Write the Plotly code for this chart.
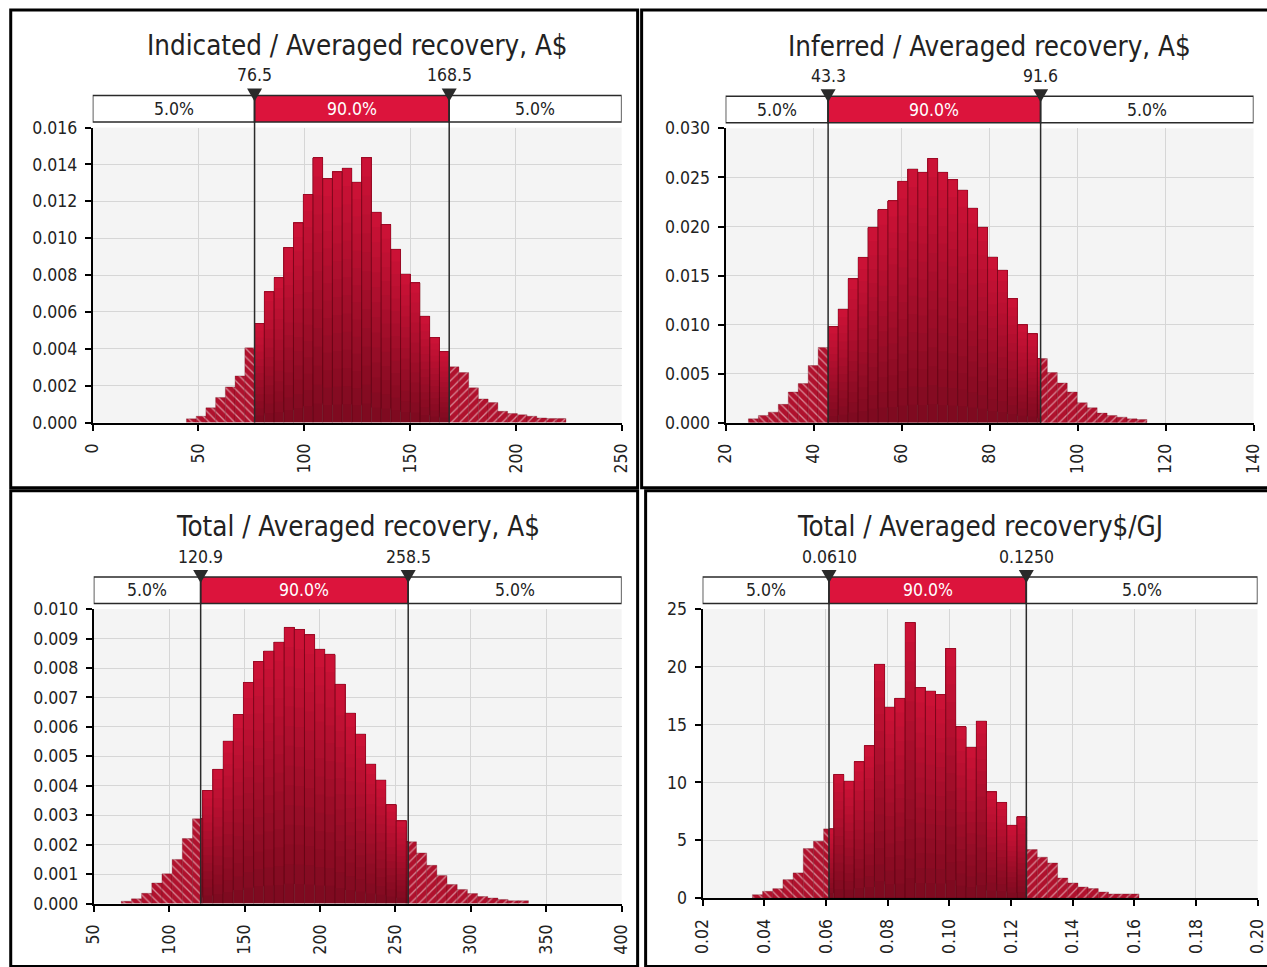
import plotly.graph_objects as go

# ---------------- DATA ----------------
TITLES = [
    "Indicated / Averaged recovery, A$",
    "Inferred / Averaged recovery, A$",
    "Total / Averaged recovery, A$",
    "Total / Averaged recovery$/GJ",
]
REGION_LABELS = ["5.0%", "90.0%", "5.0%"]

# Indicated / Averaged recovery, A$
IND_BIN_START = 44.3
IND_BIN_WIDTH = 4.6
IND_DENSITY = [0.00020, 0.00034, 0.00080, 0.00136, 0.00193, 0.00253, 0.00405,
               0.00537, 0.00709, 0.00786, 0.00949, 0.01083, 0.01237, 0.01437,
               0.01323, 0.01360, 0.01380, 0.01304, 0.01437, 0.01141, 0.01074,
               0.00940, 0.00806, 0.00758, 0.00577, 0.00461, 0.00385,
               0.00302, 0.00271, 0.00188, 0.00128, 0.00108, 0.00061, 0.00049,
               0.00042, 0.00034, 0.00025, 0.00022, 0.00022]
IND_DELIMS = [76.5, 168.5]
IND_DELIM_LABELS = ["76.5", "168.5"]

# Inferred / Averaged recovery, A$
INF_BIN_START = 25.18
INF_BIN_WIDTH = 2.265
INF_DENSITY = [0.00041, 0.00075, 0.00109, 0.00188, 0.00314, 0.00400, 0.00584, 0.00768,
               0.00980, 0.01160, 0.01468, 0.01686, 0.01993, 0.02174, 0.02263, 0.02461,
               0.02587, 0.02553, 0.02693, 0.02553, 0.02478, 0.02372, 0.02188, 0.01993,
               0.01690, 0.01556, 0.01266, 0.01000, 0.00908,
               0.00655,
               0.00512, 0.00406, 0.00314, 0.00205, 0.00154, 0.00099, 0.00075, 0.00058,
               0.00041, 0.00034]
INF_DELIMS = [43.3, 91.6]
INF_DELIM_LABELS = ["43.3", "91.6"]

# Total / Averaged recovery, A$
TOT_BIN_START = 68.24
TOT_BIN_WIDTH = 6.75
TOT_DENSITY = [0.00008, 0.00016, 0.00035, 0.00070, 0.00101, 0.00150, 0.00221, 0.00288,
               0.00384, 0.00456, 0.00552, 0.00642, 0.00751, 0.00822, 0.00858, 0.00888,
               0.00938, 0.00931, 0.00913, 0.00864, 0.00847, 0.00745, 0.00647, 0.00576,
               0.00474, 0.00420, 0.00336, 0.00281,
               0.00210,
               0.00172, 0.00130, 0.00095, 0.00065, 0.00048, 0.00034, 0.00024, 0.00019,
               0.00014, 0.00010, 0.00010]
TOT_DELIMS = [120.9, 258.5]
TOT_DELIM_LABELS = ["120.9", "258.5"]

# Total / Averaged recovery $/GJ
GJ_BIN_START = 0.03615
GJ_BIN_WIDTH = 0.0033
GJ_DENSITY = [0.29, 0.58, 0.81, 1.59, 2.17, 4.28, 4.91, 5.98,
              10.69, 10.12, 11.79, 13.18, 20.23, 16.53, 17.28, 23.84, 18.21, 17.92,
              17.60, 21.59, 14.83, 13.06, 15.32, 9.19, 8.27, 6.30, 7.02,
              4.19, 3.53, 3.03, 1.73, 1.30, 0.95, 0.81, 0.52, 0.35, 0.35, 0.35]
GJ_DELIMS = [0.061, 0.125]
GJ_DELIM_LABELS = ["0.0610", "0.1250"]

# axis settings (range, tick step, format)
X_RANGES = [[0, 250], [20, 140], [50, 400], [0.02, 0.20]]
X_DTICKS = [50, 20, 50, 0.02]
X_FORMATS = ["", "", "", ".2f"]
Y_RANGES = [[0, 0.016], [0, 0.030], [0, 0.010], [0, 25]]
Y_DTICKS = [0.002, 0.005, 0.001, 5]
Y_FORMATS = [".3f", ".3f", ".3f", ""]

# ---------------- STYLE / LAYOUT ----------------
W, H = 1267, 967          # target picture size
OFF = 8                   # default page margin around the figure
# observed mapping page px -> picture px: pic = A * page + B
AX, BX = 0.9845, 1.4
AY, BY = 0.978, 2.3
FW = int(round((W - BX) / AX - OFF))
FH = int(round((H - BY) / AY - OFF))
FONT = "DejaVu Sans Condensed, DejaVu Sans, sans-serif"
BAR_RED = "#B0112D"
BOX_RED = "#DC143C"
DARK = "#2a2a2a"
GRAD_BOTTOM = (124, 10, 31)
GRAD_TOP = (206, 18, 55)
N_BANDS = 14

# pixel rectangles in picture coordinates: plot area (x0, y0, x1, y1) and panel border
PLOT_PX = [(92, 127.5, 621, 422), (725, 128.3, 1253, 422.3),
           (93, 608.3, 621, 902.3), (702, 608.3, 1257, 896.7)]
BORDER_PX = [(10, 10, 637, 487), (641, 10, 1268, 487),
             (10, 490, 637, 965), (645, 490, 1268, 965)]

panels = [
    (IND_BIN_START, IND_BIN_WIDTH, IND_DENSITY, IND_DELIMS, IND_DELIM_LABELS),
    (INF_BIN_START, INF_BIN_WIDTH, INF_DENSITY, INF_DELIMS, INF_DELIM_LABELS),
    (TOT_BIN_START, TOT_BIN_WIDTH, TOT_DENSITY, TOT_DELIMS, TOT_DELIM_LABELS),
    (GJ_BIN_START, GJ_BIN_WIDTH, GJ_DENSITY, GJ_DELIMS, GJ_DELIM_LABELS),
]


def pxx(v):
    page = (v - BX) / AX
    return (page - OFF) / FW


def pxy(v):
    page = (v - BY) / AY
    return 1 - (page - OFF) / FH


def split_bins(start, width, heights, d1, d2):
    regions = [[], [], []]
    bounds = [(-1e18, d1), (d1, d2), (d2, 1e18)]
    for i, h in enumerate(heights):
        lo = start + i * width
        hi = lo + width
        for r, (a, b) in enumerate(bounds):
            s, e = max(lo, a), min(hi, b)
            if e - s > 1e-4 * width:
                regions[r].append(((s + e) / 2, e - s, h))
    return regions


def band_color(t):
    c = [round(GRAD_BOTTOM[j] + (GRAD_TOP[j] - GRAD_BOTTOM[j]) * t) for j in range(3)]
    return f"rgb({c[0]},{c[1]},{c[2]})"


TICK_FS = 17.5
TITLE_FS = 27.5

fig = go.Figure()
layout = dict(width=FW, height=FH, margin=dict(l=0, r=0, t=0, b=0),
              paper_bgcolor="white", plot_bgcolor="#f4f4f4",
              barmode="overlay", showlegend=False,
              font=dict(family=FONT, size=TICK_FS, color="#222"))
shapes, annotations = [], []

for k, (start, width, dens, delims, dlabels) in enumerate(panels):
    i = k + 1
    xa = "x" if i == 1 else f"x{i}"
    ya = "y" if i == 1 else f"y{i}"
    x0, y0, x1, y1 = PLOT_PX[k]
    grid = "#d6d6d6"
    layout["xaxis" if i == 1 else f"xaxis{i}"] = dict(
        domain=[pxx(x0), pxx(x1)], anchor=ya, range=X_RANGES[k],
        tick0=X_RANGES[k][0], dtick=X_DTICKS[k], tickformat=X_FORMATS[k],
        tickangle=-90, ticks="outside", ticklen=6, tickcolor="black", tickwidth=1.5,
        showline=True, linecolor="black", linewidth=2, showgrid=True,
        gridcolor=grid, gridwidth=1, zeroline=False, ticklabelstandoff=6,
        tickfont=dict(family=FONT, size=TICK_FS, color="#222"), fixedrange=True)
    layout["yaxis" if i == 1 else f"yaxis{i}"] = dict(
        domain=[pxy(y1), pxy(y0)], anchor=xa, range=Y_RANGES[k],
        tick0=0, dtick=Y_DTICKS[k], tickformat=Y_FORMATS[k],
        ticks="outside", ticklen=6, tickcolor="black", tickwidth=1.5,
        showline=True, linecolor="black", linewidth=2, showgrid=True,
        gridcolor=grid, gridwidth=1, zeroline=False, ticklabelstandoff=4,
        tickfont=dict(family=FONT, size=TICK_FS, color="#222"), fixedrange=True)

    d1, d2 = delims
    left, mid, right = split_bins(start, width, dens, d1, d2)

    # hatched tails
    for segs, shape in ((left, "\\"), (right, "/")):
        if not segs:
            continue
        marker = dict(color=BAR_RED, line=dict(width=0.6, color="rgba(90,0,15,0.45)"),
                      pattern=dict(shape=shape, fgcolor="white", bgcolor=BAR_RED,
                                   size=6, solidity=0.22))
        fig.add_trace(go.Bar(x=[s[0] for s in segs], y=[s[2] for s in segs],
                             width=[s[1] for s in segs], marker=marker,
                             xaxis=xa, yaxis=ya, hoverinfo="skip"))

    # central 90% bars with a vertical gradient: overlapping layers
    xs = [s[0] for s in mid]
    ws = [s[1] for s in mid]
    hs = [s[2] for s in mid]
    for j in range(N_BANDS):
        frac = j / N_BANDS
        fig.add_trace(go.Bar(x=xs, y=[h * (1 - frac) for h in hs],
                             base=[h * frac for h in hs], width=ws,
                             marker=dict(color=band_color((j + 0.5) / N_BANDS),
                                         line=dict(width=0)),
                             xaxis=xa, yaxis=ya, hoverinfo="skip"))
    fig.add_trace(go.Bar(x=xs, y=hs, width=ws,
                         marker=dict(color="rgba(0,0,0,0)",
                                     line=dict(width=0.8, color="rgba(80,0,15,0.45)")),
                         xaxis=xa, yaxis=ya, hoverinfo="skip"))

    # delimiter bar above plot
    xmin, xmax = X_RANGES[k]
    box_top, box_bot = y0 - 32, y0 - 5.5
    for (a, b, fill) in ((xmin, d1, "white"), (d1, d2, BOX_RED), (d2, xmax, "white")):
        shapes.append(dict(type="rect", xref=xa, yref="paper", x0=a, x1=b,
                           y0=pxy(box_bot), y1=pxy(box_top), fillcolor=fill,
                           line=dict(color=DARK, width=1.5), layer="above"))
    centers = [(xmin + d1) / 2, (d1 + d2) / 2, (d2 + xmax) / 2]
    for c, txt, col in zip(centers, REGION_LABELS, ["#222", "white", "#222"]):
        annotations.append(dict(x=c, xref=xa, y=pxy((box_top + box_bot) / 2), yref="paper",
                                text=txt, showarrow=False, xanchor="center", yanchor="middle",
                                font=dict(family=FONT, size=TICK_FS, color=col)))
    for d, lab in zip(delims, dlabels):
        shapes.append(dict(type="line", xref=xa, yref="paper", x0=d, x1=d,
                           y0=pxy(y1), y1=pxy(box_top), line=dict(color=DARK, width=1.5),
                           layer="above"))
        shapes.append(dict(type="path", xref=xa, yref="paper", xsizemode="pixel",
                           ysizemode="pixel", xanchor=d, yanchor=pxy(box_top),
                           path="M-7.5,7 L7.5,7 L0,-6 Z", fillcolor=DARK,
                           line=dict(width=0), layer="above"))
        annotations.append(dict(x=d, xref=xa, y=pxy(box_top - 20), yref="paper",
                                text=lab, showarrow=False, xanchor="center", yanchor="middle",
                                font=dict(family=FONT, size=TICK_FS, color="#222")))
    # title
    annotations.append(dict(x=0.5, xref=f"{xa} domain", y=pxy(y0 - 82.5), yref="paper",
                            text=TITLES[k], showarrow=False, xanchor="center",
                            yanchor="middle", font=dict(family=FONT, size=TITLE_FS, color="#222")))
    # panel border
    bx0, by0, bx1, by1 = BORDER_PX[k]
    shapes.append(dict(type="rect", xref="paper", yref="paper", x0=pxx(bx0), x1=pxx(bx1),
                       y0=pxy(by1), y1=pxy(by0), line=dict(color="black", width=3),
                       fillcolor="rgba(0,0,0,0)", layer="above"))

layout["shapes"] = shapes
layout["annotations"] = annotations
fig.update_layout(**layout)
fig.write_html("out.html")
